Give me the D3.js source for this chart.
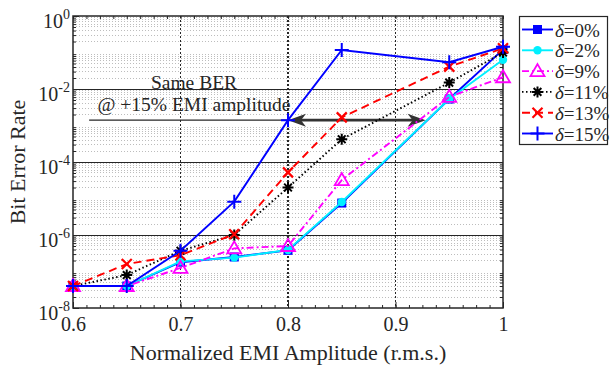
<!DOCTYPE html>
<html><head><meta charset="utf-8">
<script src="https://cdn.jsdelivr.net/npm/d3@7"></script>
<style>body{margin:0;background:#fff}svg{display:block;font-family:"Liberation Serif","Times New Roman",serif}</style>
</head><body><svg id="c" width="610" height="367"></svg>
<script>
const xVals = [0.6, 0.65, 0.7, 0.75, 0.8, 0.85, 0.95, 1.0];
const ber0  = [4e-8, 4e-8, 1.8e-7, 2.5e-7, 3.8e-7, 7.5e-6, 5.3e-3, 0.12];
const ber2  = [4e-8, 4e-8, 1.9e-7, 2.4e-7, 3.9e-7, 8e-6, 5.3e-3, 0.063];
const ber9  = [4e-8, 4e-8, 1.25e-7, 4.3e-7, 5e-7, 3.2e-5, 6.1e-3, 0.021];
const ber11 = [4e-8, 8e-8, 3.7e-7, 1e-6, 2e-5, 4.2e-4, 0.015, 0.1];
const ber13 = [4e-8, 1.6e-7, 2.8e-7, 1.05e-6, 5.2e-5, 1.67e-3, 0.041, 0.13];
const ber15 = [4e-8, 4e-8, 3.7e-7, 8.2e-6, 1.4e-3, 0.117, 0.054, 0.144];
const seriesNames = ["0%", "2%", "9%", "11%", "13%", "15%"];
const xTicks = [0.6, 0.7, 0.8, 0.9, 1];
const yTicks = [1e-8, 1e-6, 1e-4, 1e-2, 1];
const yTickExp = ["-8", "-6", "-4", "-2", "0"];
const xTitle = "Normalized EMI Amplitude (r.m.s.)";
const yTitle = "Bit Error Rate";
const annot1 = "Same BER", annot2 = "@ +15% EMI amplitude";
const annotBER = 1.4e-3, annotArrowEnd = 0.928, annotLineStart = 0.615;

const svg = d3.select("#c");
const L = 73, R = 503, T = 16, B = 308;
const x = d3.scaleLinear().domain([0.6, 1]).range([L, R]);
const y = d3.scaleLog().domain([1e-8, 1]).range([B, T]);
const ink = "#262626";

// minor horizontal grid
const minorY = [];
for (let e = -8; e < 0; e++) for (let m = 2; m <= 9; m++) minorY.push(m * Math.pow(10, e));
svg.append("g").attr("shape-rendering", "crispEdges").selectAll("line").data(minorY).join("line")
  .attr("x1", L).attr("x2", R).attr("y1", d => y(d)).attr("y2", d => y(d))
  .attr("stroke", "#bdbdbd").attr("stroke-width", 1).attr("stroke-dasharray", "1,2");
// major grid
svg.append("g").attr("shape-rendering", "crispEdges").selectAll("line").data(yTicks.slice(1, -1)).join("line")
  .attr("x1", L).attr("x2", R).attr("y1", d => y(d)).attr("y2", d => y(d))
  .attr("stroke", ink).attr("stroke-width", 1);
svg.append("g").attr("shape-rendering", "crispEdges").selectAll("line").data(xTicks.slice(1, -1)).join("line")
  .attr("y1", T).attr("y2", B).attr("x1", d => x(d)).attr("x2", d => x(d))
  .attr("stroke", ink).attr("stroke-width", 1.3).attr("stroke-dasharray", "2,2");

// axes
const minorX = d3.range(0.6, 1.0001, 0.0125);
const gxB = svg.append("g").attr("transform", `translate(0,${B})`)
  .call(d3.axisBottom(x).tickValues(minorX).tickSize(-3).tickFormat(""));
const gxT = svg.append("g").attr("transform", `translate(0,${T})`)
  .call(d3.axisTop(x).tickValues(minorX).tickSize(-3).tickFormat(""));
const gxB2 = svg.append("g").attr("transform", `translate(0,${B})`)
  .call(d3.axisBottom(x).tickValues(xTicks).tickSize(-6).tickPadding(9).tickFormat(d3.format("")));
const gyL = svg.append("g").attr("transform", `translate(${L},0)`)
  .call(d3.axisLeft(y).tickValues(minorY).tickSize(-3).tickFormat(""));
const gyR = svg.append("g").attr("transform", `translate(${R},0)`)
  .call(d3.axisRight(y).tickValues(minorY).tickSize(-3).tickFormat(""));
const gyL2 = svg.append("g").attr("transform", `translate(${L},0)`)
  .call(d3.axisLeft(y).tickValues(yTicks).tickSize(-6).tickFormat(""));
[gxB, gxT, gxB2, gyL, gyR, gyL2].forEach(g => {
  g.select(".domain").remove();
  g.selectAll("line").attr("stroke", ink);
  g.attr("font-family", null).attr("font-size", null);
});
gxB2.selectAll("text").attr("font-size", 20).attr("fill", ink)
  .attr("font-family", "Liberation Serif");
// y tick labels with superscripts
gyL2.selectAll(".tick").each(function(d, i) {
  const t = d3.select(this).append("text").attr("x", -3).attr("y", 11)
    .attr("text-anchor", "end").attr("fill", ink).attr("font-size", 20)
    .attr("font-family", "Liberation Serif");
  t.append("tspan").text("10");
  t.append("tspan").attr("dy", -9).attr("font-size", 14).text(yTickExp[i]);
});
svg.append("rect").attr("x", L).attr("y", T).attr("width", R - L).attr("height", B - T)
  .attr("fill", "none").attr("stroke", ink).attr("stroke-width", 1.5);

// titles
svg.append("text").attr("x", 288).attr("y", 360).attr("text-anchor", "middle")
  .attr("font-size", 22).attr("fill", ink).text(xTitle);
svg.append("text").attr("transform", `translate(25,162) rotate(-90)`)
  .attr("text-anchor", "middle").attr("font-size", 22).attr("fill", ink).text(yTitle);

// annotation
svg.append("text").attr("x", 194).attr("y", 89).attr("text-anchor", "middle")
  .attr("font-size", 19.5).attr("fill", ink).text(annot1);
svg.append("text").attr("x", 194).attr("y", 111).attr("text-anchor", "middle")
  .attr("font-size", 19.5).attr("fill", ink).text(annot2);
svg.append("line").attr("x1", x(annotLineStart)).attr("x2", x(0.8))
  .attr("y1", y(annotBER)).attr("y2", y(annotBER)).attr("stroke", ink).attr("stroke-width", 1.2);
const ay = y(annotBER), ax1 = x(0.8), ax2 = x(annotArrowEnd);
svg.append("line").attr("x1", ax1 + 8).attr("x2", ax2 - 8).attr("y1", ay).attr("y2", ay)
  .attr("stroke", "#333").attr("stroke-width", 2.6);
svg.append("path").attr("d", `M${ax1},${ay} L${ax1 + 18},${ay - 6.5} L${ax1 + 13},${ay} L${ax1 + 18},${ay + 6.5} Z`).attr("fill", "#333");
svg.append("path").attr("d", `M${ax2},${ay} L${ax2 - 18},${ay - 6.5} L${ax2 - 13},${ay} L${ax2 - 18},${ay + 6.5} Z`).attr("fill", "#333");

// series
const series = [
  {vals: ber0,  color: "#0000ff", dash: null, marker: "square"},
  {vals: ber2,  color: "#00f0ff", dash: null, marker: "circle"},
  {vals: ber9,  color: "#ff00ff", dash: "7,3,2,3", marker: "triangle"},
  {vals: ber11, color: "#000000", dash: "1.5,2.5", marker: "star"},
  {vals: ber13, color: "#ff0000", dash: "8,5", marker: "x"},
  {vals: ber15, color: "#0000ff", dash: null, marker: "plus"},
];
function drawMarker(g, type, cx, cy, color) {
  if (type === "square") g.append("rect").attr("x", cx - 4.5).attr("y", cy - 4.5).attr("width", 9).attr("height", 9).attr("fill", color);
  else if (type === "circle") g.append("circle").attr("cx", cx).attr("cy", cy).attr("r", 4.2).attr("fill", color);
  else if (type === "triangle") g.append("path").attr("d", `M${cx},${cy - 7} L${cx + 7},${cy + 5} L${cx - 7},${cy + 5} Z`).attr("fill", "none").attr("stroke", color).attr("stroke-width", 1.8);
  else if (type === "star") {
    const r = 5.5;
    g.append("path").attr("d", `M${cx - r},${cy} L${cx + r},${cy} M${cx},${cy - r} L${cx},${cy + r} M${cx - r * .7},${cy - r * .7} L${cx + r * .7},${cy + r * .7} M${cx - r * .7},${cy + r * .7} L${cx + r * .7},${cy - r * .7}`)
      .attr("stroke", color).attr("stroke-width", 2);
  } else if (type === "x") {
    const r = 5;
    g.append("path").attr("d", `M${cx - r},${cy - r} L${cx + r},${cy + r} M${cx - r},${cy + r} L${cx + r},${cy - r}`).attr("stroke", color).attr("stroke-width", 2.2);
  } else if (type === "plus") {
    const r = 7;
    g.append("path").attr("d", `M${cx - r},${cy} L${cx + r},${cy} M${cx},${cy - r} L${cx},${cy + r}`).attr("stroke", color).attr("stroke-width", 2);
  }
}
const line = d3.line().x(d => x(d[0])).y(d => y(d[1]));
const drawOrder = [0, 1, 2, 3, 4, 5];
drawOrder.forEach(i => {
  const s = series[i];
  const pts = xVals.map((v, k) => [v, s.vals[k]]);
  const g = svg.append("g");
  g.append("path").attr("d", line(pts)).attr("fill", "none").attr("stroke", s.color)
    .attr("stroke-width", 1.9).attr("stroke-dasharray", s.dash);
  pts.forEach(p => drawMarker(g, s.marker, x(p[0]), y(p[1]), s.color));
});

// legend
const lg = svg.append("g");
lg.append("rect").attr("x", 519.5).attr("y", 16.5).attr("width", 88).attr("height", 128)
  .attr("fill", "#fff").attr("stroke", ink).attr("stroke-width", 1.2);
seriesNames.forEach((n, i) => {
  const s = series[i], yy = 29.5 + i * 20.8;
  lg.append("line").attr("x1", 522).attr("x2", 553).attr("y1", yy).attr("y2", yy)
    .attr("stroke", s.color).attr("stroke-width", 1.9).attr("stroke-dasharray", s.dash);
  drawMarker(lg, s.marker, 537.5, yy, s.color);
  const t = lg.append("text").attr("x", 555).attr("y", yy + 7).attr("font-size", 19).attr("fill", ink);
  t.append("tspan").attr("font-style", "italic").text("δ");
  t.append("tspan").text("=" + n);
});
</script></body></html>
